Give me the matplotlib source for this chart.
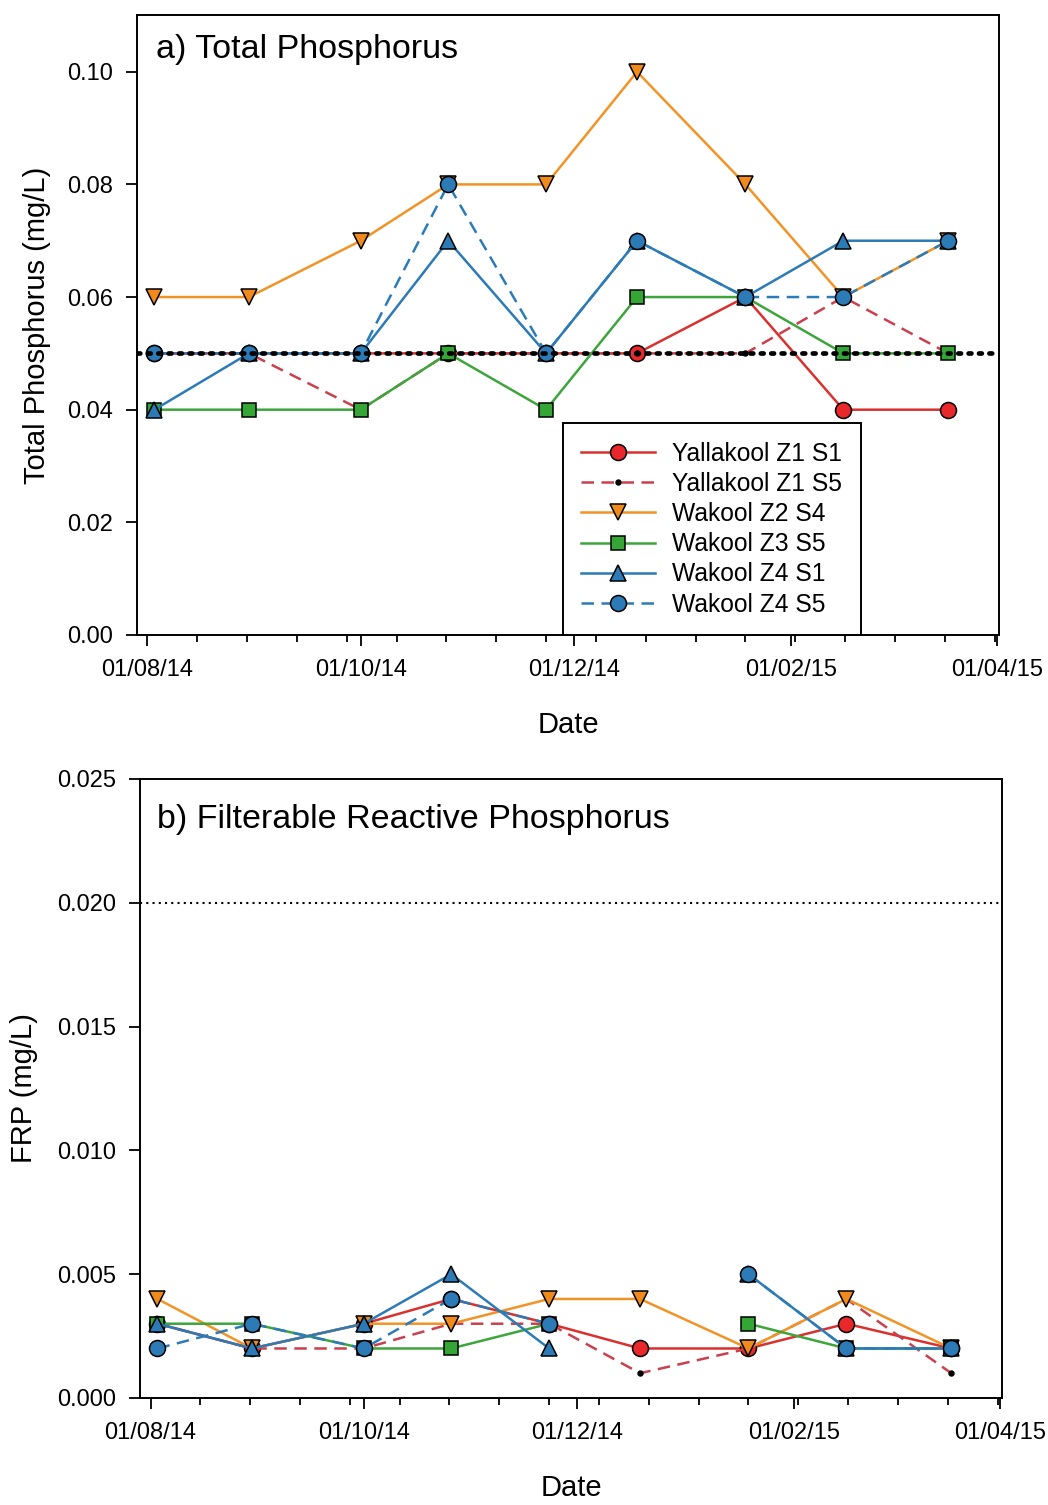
import numpy as np
import matplotlib
matplotlib.use("Agg")
import matplotlib.pyplot as plt
import matplotlib.dates as mdates
from matplotlib.ticker import FixedLocator

plt.rcParams['font.family'] = ['Liberation Sans', 'DejaVu Sans']

# sampling dates
dates = np.array(['2014-08-03', '2014-08-30', '2014-10-01', '2014-10-26', '2014-11-23',
                  '2014-12-19', '2015-01-19', '2015-02-16', '2015-03-18'], dtype='datetime64[D]')

names = ['Yallakool Z1 S1', 'Yallakool Z1 S5', 'Wakool Z2 S4',
         'Wakool Z3 S5', 'Wakool Z4 S1', 'Wakool Z4 S5']

# a) total phosphorus (mg/L)
tp_y1s1 = [0.05, 0.05, 0.05, 0.05, 0.05, 0.05, 0.06, 0.04, 0.04]
tp_y1s5 = [0.05, 0.05, 0.04, 0.05, 0.05, 0.05, 0.05, 0.06, 0.05]
tp_w2s4 = [0.06, 0.06, 0.07, 0.08, 0.08, 0.10, 0.08, 0.06, 0.07]
tp_w3s5 = [0.04, 0.04, 0.04, 0.05, 0.04, 0.06, 0.06, 0.05, 0.05]
tp_w4s1 = [0.04, 0.05, 0.05, 0.07, 0.05, 0.07, 0.06, 0.07, 0.07]
tp_w4s5 = [0.05, 0.05, 0.05, 0.08, 0.05, 0.07, 0.06, 0.06, 0.07]
tp_guide = 0.05

# b) filterable reactive phosphorus (mg/L)
nan = np.nan
frp_y1s1 = [0.003, 0.002, 0.003, 0.004, 0.003, 0.002, 0.002, 0.003, 0.002]
frp_y1s5 = [0.003, 0.002, 0.002, 0.003, 0.003, 0.001, 0.002, 0.004, 0.001]
frp_w2s4 = [0.004, 0.002, 0.003, 0.003, 0.004, 0.004, 0.002, 0.004, 0.002]
frp_w3s5 = [0.003, 0.003, 0.002, 0.002, 0.003, nan, 0.003, 0.002, 0.002]
frp_w4s1 = [0.003, 0.002, 0.003, 0.005, 0.002, nan, 0.005, 0.002, 0.002]
frp_w4s5 = [0.002, 0.003, 0.002, 0.004, 0.003, nan, 0.005, 0.002, 0.002]
frp_guide = 0.020

# line styles per series
styles = [
    dict(color='#d8312e', ls='-', marker='o', mfc='#e8282b', ms=11.5),
    dict(color='#c9404e', ls=(0, (5, 3)), marker='o', mfc='black', ms=3.5),
    dict(color='#f29425', ls='-', marker='v', mfc='#f08a1c', ms=11.5),
    dict(color='#3da53c', ls='-', marker='s', mfc='#35a535', ms=10),
    dict(color='#2c7bb6', ls='-', marker='^', mfc='#2c7bb6', ms=11.5),
    dict(color='#2c7bb6', ls=(0, (5, 3)), marker='o', mfc='#2c7bb6', ms=11.5),
]

fig = plt.figure(figsize=(10.48, 15.05), dpi=100)
ax1 = fig.add_axes([0.1307, 0.5781, 0.8225, 0.4120])
ax2 = fig.add_axes([0.1336, 0.0711, 0.8225, 0.4113])

x0 = mdates.date2num(np.datetime64('2014-07-29'))
x1 = mdates.date2num(np.datetime64('2015-04-01')) + 0.5
minor = np.arange(mdates.date2num(np.datetime64('2014-08-01')), x1, 14.25)


def draw(ax, series, guide, guide_style):
    for vals, name, st in zip(series, names, styles):
        ax.plot(dates, vals, color=st['color'], ls=st['ls'], lw=1.8,
                marker=st['marker'], ms=st['ms'], mfc=st['mfc'],
                mec='black', mew=1.1, label=name)
    ax.axhline(guide, color='black', zorder=10, **guide_style)
    ax.set_xlim(x0, x1)
    ax.xaxis.set_major_locator(mdates.MonthLocator(bymonth=[2, 4, 8, 10, 12]))
    ax.xaxis.set_major_formatter(mdates.DateFormatter('%d/%m/%y'))
    ax.xaxis.set_minor_locator(FixedLocator(minor))
    ax.tick_params(axis='both', which='major', direction='out', length=8, width=1.3,
                   labelsize=17, pad=9)
    ax.tick_params(axis='x', which='minor', direction='out', length=5, width=1.3)
    for s in ax.spines.values():
        s.set_linewidth(1.4)
    ax.set_xlabel('Date', fontsize=21, labelpad=22)


draw(ax1, [tp_y1s1, tp_y1s5, tp_w2s4, tp_w3s5, tp_w4s1, tp_w4s5], tp_guide,
     dict(ls=(0, (0.6, 1.6)), lw=3.4, dash_capstyle='round'))
ax1.set_ylim(0, 0.1101)
ax1.set_yticks(np.arange(0, 0.101, 0.02))
ax1.yaxis.set_major_formatter(matplotlib.ticker.FormatStrFormatter('%.2f'))
ax1.set_ylabel('Total Phosphorus (mg/L)', fontsize=21, labelpad=12)
ax1.text(0.022, 0.945, 'a) Total Phosphorus', transform=ax1.transAxes,
         fontsize=24.5, va='center', ha='left')
leg = ax1.legend(loc='lower left', bbox_to_anchor=(0.494, 0.0), borderaxespad=0,
                 fontsize=17.7, handlelength=3.0, labelspacing=0.25,
                 fancybox=False, edgecolor='black', framealpha=1,
                 borderpad=0.75, handletextpad=0.7)
leg.get_frame().set_linewidth(1.4)
leg.set_zorder(20)

draw(ax2, [frp_y1s1, frp_y1s5, frp_w2s4, frp_w3s5, frp_w4s1, frp_w4s5], frp_guide,
     dict(ls=(0, (1, 2)), lw=1.5))
ax2.set_ylim(0, 0.025)
ax2.set_yticks(np.arange(0, 0.0251, 0.005))
ax2.yaxis.set_major_formatter(matplotlib.ticker.FormatStrFormatter('%.3f'))
ax2.set_ylabel('FRP (mg/L)', fontsize=21, labelpad=14)
ax2.text(0.02, 0.935, 'b) Filterable Reactive Phosphorus', transform=ax2.transAxes,
         fontsize=24.5, va='center', ha='left')

fig.savefig('out.png', dpi=100)
